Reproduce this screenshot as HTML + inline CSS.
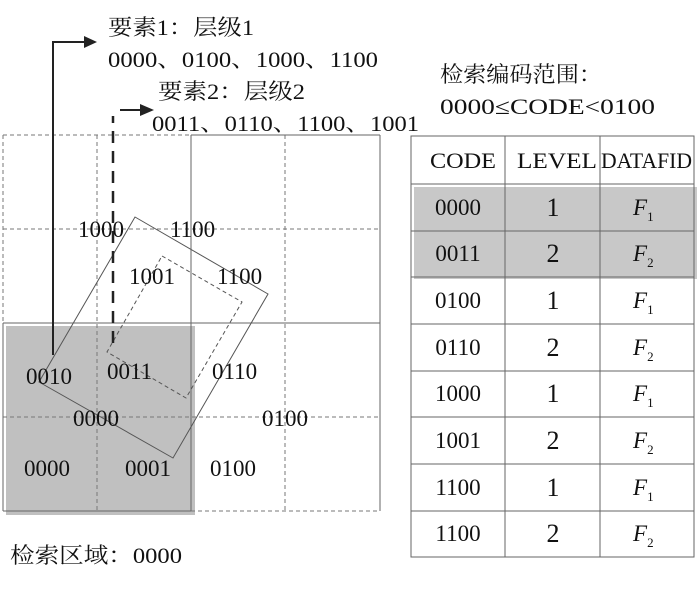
<!DOCTYPE html>
<html><head><meta charset="utf-8"><style>
html,body{margin:0;padding:0;background:#fff;}
svg{display:block;}
text{font-family:"Liberation Serif","Noto Serif CJK SC",serif;fill:#111;}
</style></head><body>
<svg width="700" height="592" viewBox="0 0 700 592" xmlns="http://www.w3.org/2000/svg">
<rect x="6" y="326" width="189" height="189" fill="#c0c0c0"/>
<g stroke="#777" stroke-width="1" stroke-dasharray="4,3" fill="none">
<line x1="3" y1="135" x2="191" y2="135"/>
<line x1="3" y1="135" x2="3" y2="323"/>
<line x1="97" y1="135" x2="97" y2="511"/>
<line x1="285" y1="135" x2="285" y2="511"/>
<line x1="3" y1="229" x2="380" y2="229"/>
<line x1="3" y1="417" x2="380" y2="417"/>
<line x1="191" y1="511" x2="380" y2="511"/>
</g>
<g stroke="#666" stroke-width="1" fill="none">
<line x1="191" y1="135" x2="380" y2="135"/>
<line x1="380" y1="135" x2="380" y2="511"/>
<line x1="191" y1="135" x2="191" y2="511"/>
<line x1="3" y1="323" x2="380" y2="323"/>
<line x1="3" y1="323" x2="3" y2="511"/>
<line x1="3" y1="511" x2="191" y2="511"/>
</g>
<polygon points="135,217 268,294 173,458 39,382" fill="none" stroke="#555" stroke-width="1"/>
<polygon points="162,256 242,302 186,398 107,352" fill="none" stroke="#555" stroke-width="1" stroke-dasharray="4,3"/>
<polyline points="53,355 53,42 86,42" fill="none" stroke="#222" stroke-width="2"/>
<polygon points="84,36 97,42 84,48" fill="#222"/>
<line x1="113" y1="343" x2="113" y2="116" stroke="#222" stroke-width="2.5" stroke-dasharray="12,8"/>
<line x1="120" y1="110" x2="142" y2="110" stroke="#222" stroke-width="2"/>
<polygon points="140,104 154,110 140,116" fill="#222"/>
<g font-size="22">
<text x="108" y="35" textLength="146" lengthAdjust="spacingAndGlyphs">要素1：层级1</text>
<text x="108" y="67" textLength="270" lengthAdjust="spacingAndGlyphs">0000、0100、1000、1100</text>
<text x="158" y="99" textLength="147" lengthAdjust="spacingAndGlyphs">要素2：层级2</text>
<text x="152" y="131" textLength="267" lengthAdjust="spacingAndGlyphs">0011、0110、1100、1001</text>
<text x="440" y="82" textLength="162" lengthAdjust="spacingAndGlyphs">检索编码范围：</text>
<text x="440" y="114" textLength="215" lengthAdjust="spacingAndGlyphs">0000≤CODE&lt;0100</text>
<text x="10" y="563" textLength="172" lengthAdjust="spacingAndGlyphs">检索区域：0000</text>
</g>
<g font-size="23">
<text x="78" y="237">1000</text>
<text x="170" y="237">1100</text>
<text x="129" y="284">1001</text>
<text x="217" y="284">1100</text>
<text x="26" y="384">0010</text>
<text x="107" y="379">0011</text>
<text x="212" y="379">0110</text>
<text x="73" y="426">0000</text>
<text x="262" y="426">0100</text>
<text x="24" y="476">0000</text>
<text x="125" y="476">0001</text>
<text x="210" y="476">0100</text>
</g>
<rect x="414" y="187" width="283" height="92" fill="#c8c8c8"/>
<g stroke="#666" stroke-width="1" fill="none">
<rect x="411" y="136" width="283" height="421"/>
<line x1="505" y1="136" x2="505" y2="557"/>
<line x1="600" y1="136" x2="600" y2="557"/>
<line x1="411" y1="184" x2="694" y2="184"/>
<line x1="411" y1="231" x2="694" y2="231"/>
<line x1="411" y1="277" x2="694" y2="277"/>
<line x1="411" y1="324" x2="694" y2="324"/>
<line x1="411" y1="371" x2="694" y2="371"/>
<line x1="411" y1="417" x2="694" y2="417"/>
<line x1="411" y1="464" x2="694" y2="464"/>
<line x1="411" y1="511" x2="694" y2="511"/>
</g>
<g font-size="22">
<text x="430" y="168" textLength="66" lengthAdjust="spacingAndGlyphs">CODE</text>
<text x="517" y="168" textLength="80" lengthAdjust="spacingAndGlyphs">LEVEL</text>
<text x="601" y="168" textLength="91" lengthAdjust="spacingAndGlyphs">DATAFID</text>
</g>
<g font-size="23" text-anchor="middle">
<text x="458" y="215">0000</text><text x="553" y="216" font-size="26">1</text>
<text x="458" y="261">0011</text><text x="553" y="262" font-size="26">2</text>
<text x="458" y="308">0100</text><text x="553" y="309" font-size="26">1</text>
<text x="458" y="355">0110</text><text x="553" y="356" font-size="26">2</text>
<text x="458" y="401">1000</text><text x="553" y="402" font-size="26">1</text>
<text x="458" y="448">1001</text><text x="553" y="449" font-size="26">2</text>
<text x="458" y="495">1100</text><text x="553" y="496" font-size="26">1</text>
<text x="458" y="541">1100</text><text x="553" y="542" font-size="26">2</text>
</g>
<g font-size="23" font-style="italic">
<text x="633" y="215">F<tspan font-size="13" font-style="normal" dy="6">1</tspan></text>
<text x="633" y="261">F<tspan font-size="13" font-style="normal" dy="6">2</tspan></text>
<text x="633" y="308">F<tspan font-size="13" font-style="normal" dy="6">1</tspan></text>
<text x="633" y="355">F<tspan font-size="13" font-style="normal" dy="6">2</tspan></text>
<text x="633" y="401">F<tspan font-size="13" font-style="normal" dy="6">1</tspan></text>
<text x="633" y="448">F<tspan font-size="13" font-style="normal" dy="6">2</tspan></text>
<text x="633" y="495">F<tspan font-size="13" font-style="normal" dy="6">1</tspan></text>
<text x="633" y="541">F<tspan font-size="13" font-style="normal" dy="6">2</tspan></text>
</g>
</svg>
</body></html>
